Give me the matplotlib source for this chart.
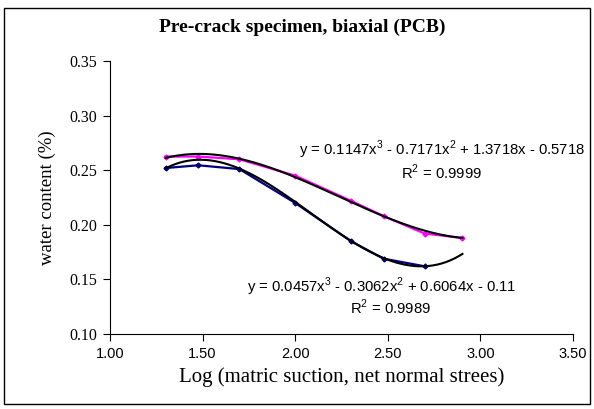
import numpy as np
import matplotlib
matplotlib.use("Agg")
import matplotlib.pyplot as plt
from matplotlib.patches import Rectangle

# Data (log values)
x_upper = [1.301, 1.477, 1.699, 2.000, 2.301, 2.477, 2.699, 2.903]
y_upper = [0.2625, 0.2625, 0.2600, 0.2450, 0.2220, 0.2080, 0.1920, 0.1880]
x_lower = [1.301, 1.477, 1.699, 2.000, 2.301, 2.477, 2.699]
y_lower = [0.2520, 0.2545, 0.2510, 0.2200, 0.1850, 0.1690, 0.1620]

# Trend line coefficients (as printed on the chart)
coef_a = [0.1147, -0.7171, 1.3718, -0.5718]   # fits lower series
coef_b = [0.0457, -0.3062, 0.6064, -0.11]     # fits upper series
trend_range = [1.301, 2.903]

xticks = [1.00, 1.50, 2.00, 2.50, 3.00, 3.50]
yticks = [0.10, 0.15, 0.20, 0.25, 0.30, 0.35]

serif = ["Liberation Serif", "DejaVu Serif"]
sans = ["Liberation Sans", "DejaVu Sans"]
plt.rcParams["mathtext.fontset"] = "custom"
plt.rcParams["mathtext.rm"] = "Liberation Sans"

fig = plt.figure(figsize=(5.94, 4.09), dpi=100)
fig.patches.append(Rectangle((4/594, 1-404/409), 586/594, 396/409,
                             transform=fig.transFigure, fill=False,
                             edgecolor="black", linewidth=1.0))
ax = fig.add_axes([110/594, 1-334/409, 463/594, 273/409])

ax.plot(x_upper, y_upper, color="#ff00ff", lw=1.6, marker="D", ms=2.5, zorder=2)
ax.plot(x_lower, y_lower, color="#000080", lw=1.6, marker="D", ms=2.5, zorder=2)

xt = np.linspace(trend_range[0], trend_range[1], 200)
ax.plot(xt, np.polyval(coef_a, xt), color="black", lw=1.5, zorder=3)
ax.plot(xt, np.polyval(coef_b, xt), color="black", lw=1.5, zorder=3)

ax.set_xlim(1.0, 3.5)
ax.set_ylim(0.10, 0.35)
ax.set_xticks(xticks)
ax.set_xticklabels([f"{v:.2f}" for v in xticks], family=sans, fontsize=10.5)
ax.set_yticks(yticks)
ax.set_yticklabels([f"{v:.2f}" for v in yticks], family=serif, fontsize=11.5)
ax.tick_params(direction="out", length=5, width=0.8, color="black", pad=4)
for s in ["top", "right"]:
    ax.spines[s].set_visible(False)
for s in ["left", "bottom"]:
    ax.spines[s].set_linewidth(0.8)

ax.set_xlabel("Log (matric suction, net normal strees)", family=serif, fontsize=15, labelpad=5)
ax.set_ylabel("water content (%)", family=serif, fontsize=13.5, labelpad=10)
fig.text(302/594, 1-27/409, "Pre-crack specimen, biaxial (PCB)", family=serif,
         fontsize=14, fontweight="bold", ha="center", va="center")

fs = 10.7
ax.text(0.716, 0.674, "y = 0.1147x$^3$ - 0.7171x$^2$ + 1.3718x - 0.5718",
        transform=ax.transAxes, family=sans, fontsize=fs, ha="center", va="center")
ax.text(0.715, 0.593, "R$^2$ = 0.9999", transform=ax.transAxes, family=sans,
        fontsize=fs, ha="center", va="center")
ax.text(0.586, 0.172, "y = 0.0457x$^3$ - 0.3062x$^2$ + 0.6064x - 0.11",
        transform=ax.transAxes, family=sans, fontsize=fs, ha="center", va="center")
ax.text(0.605, 0.099, "R$^2$ = 0.9989", transform=ax.transAxes, family=sans,
        fontsize=fs, ha="center", va="center")

fig.savefig("out.png", dpi=100)
